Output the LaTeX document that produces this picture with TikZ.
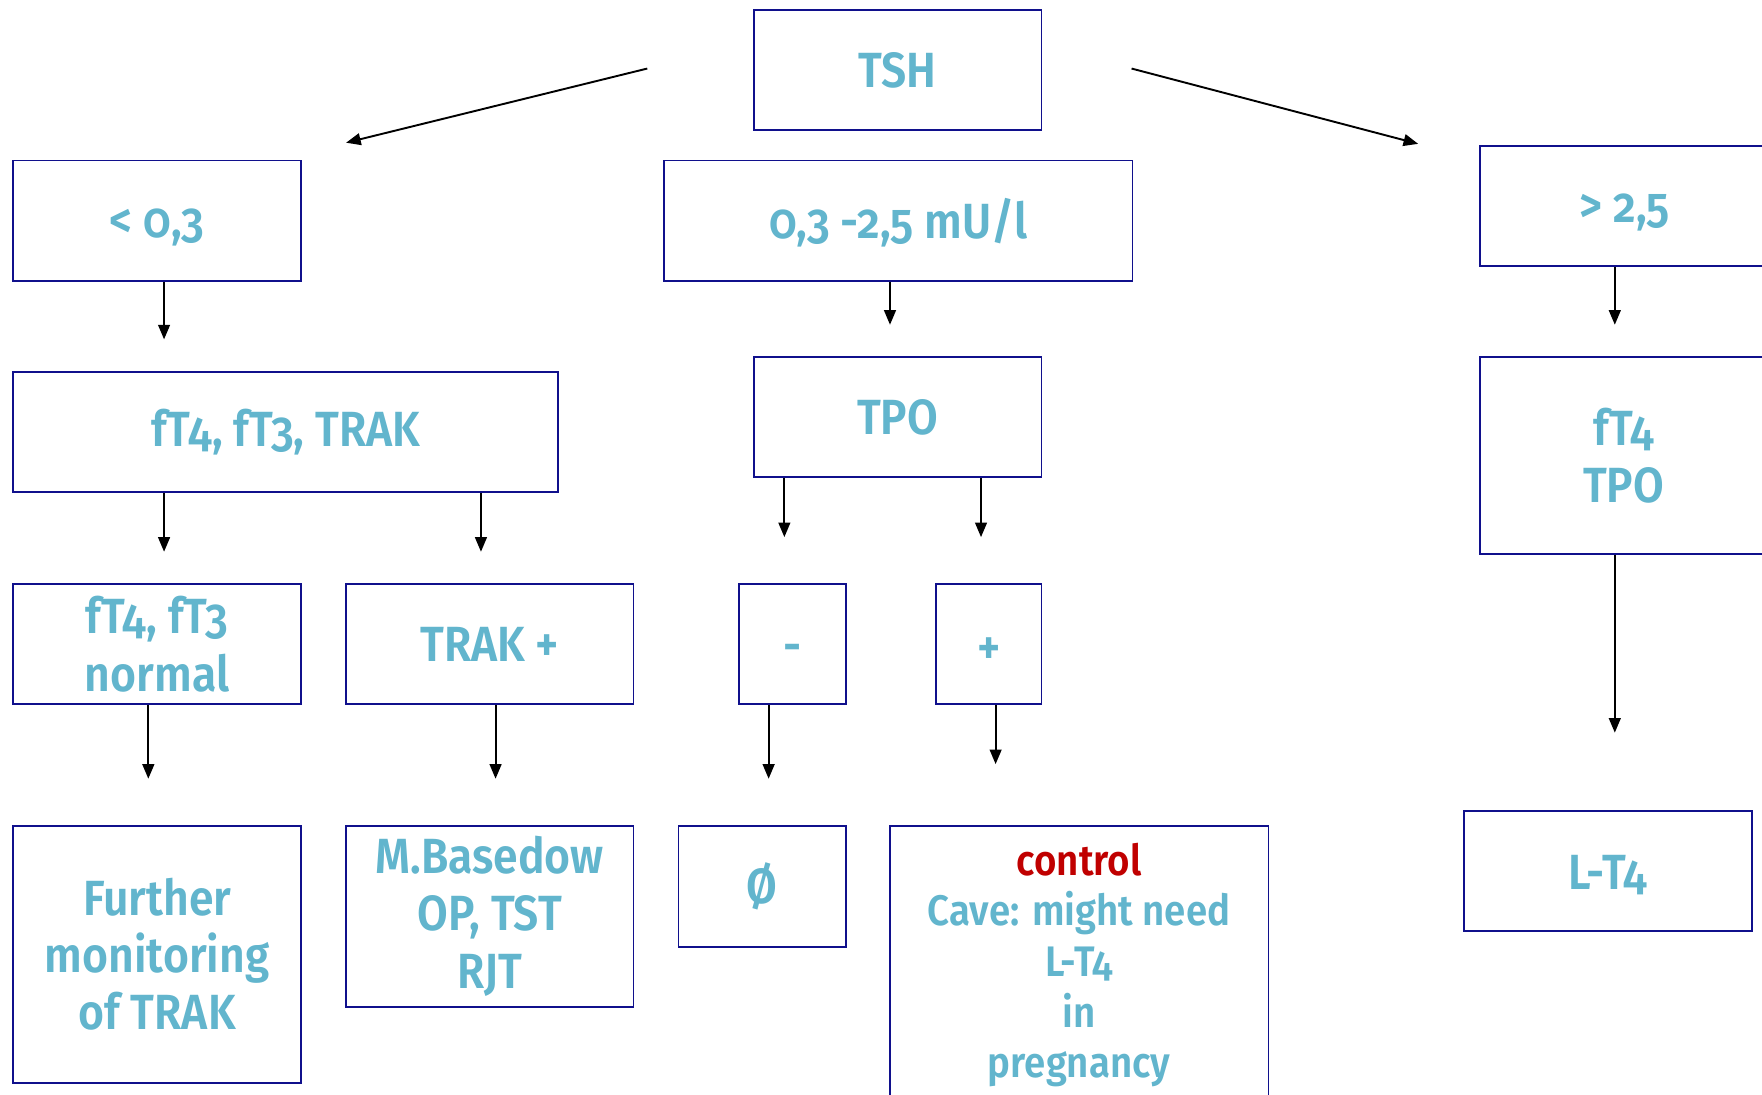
\documentclass[tikz,border=0pt]{standalone}
\usepackage{fontspec}
\setmainfont{Fira Sans}[Numbers=OldStyle, FakeStretch=0.9,
  BoldFont={Fira Sans SemiBold}, BoldFeatures={Numbers=OldStyle, FakeStretch=0.9}]
\usetikzlibrary{arrows.meta}
\definecolor{boxline}{RGB}{16,16,140}
\definecolor{labelblue}{RGB}{98,181,205}
\definecolor{alertred}{RGB}{192,0,0}
% shift a label down without changing the size it reports
\newcommand{\lowered}[2]{\raisebox{-#1pt}[\height][\depth]{#2}}
\tikzset{
  box/.style={draw=boxline, line width=1.6pt, anchor=north west, inner sep=0pt,
    align=center, text=labelblue, font=\fontsize{44}{51}\selectfont\bfseries},
  arr/.style={draw=black, line width=1.7pt, -{Triangle[length=13pt,width=10.5pt]}},
}
\begin{document}
\begin{tikzpicture}[x=1pt,y=-1pt]
\useasboundingbox (0,0) rectangle (1568,974);

% first level
\node[box, minimum width=256pt, minimum height=107pt] (tsh) at (670,8) {TSH};
\node[box, minimum width=256pt, minimum height=107pt] (lt) at (11,142) {\lowered{6}{< 0,3}};
\node[box, minimum width=417pt, minimum height=107pt] (mid) at (590,142) {\lowered{2}{0,3 -2,5 mU/l}};
\node[box, minimum width=258pt, minimum height=107pt] (gt) at (1316,129) {\lowered{6}{> 2,5}};

% second level
\node[box, minimum width=485pt, minimum height=107pt] (ft) at (11,330) {fT4, fT3, TRAK};
\node[box, minimum width=256pt, minimum height=107pt] (tpo) at (670,317) {TPO};
\node[box, minimum width=256pt, minimum height=175pt] (ftp) at (1316,317) {fT4\\TPO};

% third level
\node[box, minimum width=256pt, minimum height=107pt] (norm) at (11,519) {fT4, fT3\\normal};
\node[box, minimum width=256pt, minimum height=107pt] (trak) at (307,519) {TRAK +};
\node[box, minimum width=95pt, minimum height=107pt] (neg) at (657,519) {\lowered{8}{-}};
\node[box, minimum width=94pt, minimum height=107pt] (pos) at (832,519) {\lowered{6}{+}};

% outcomes
\node[box, minimum width=256pt, minimum height=229pt] (furt) at (11,734) {Further\\monitoring\\of TRAK};
\node[box, minimum width=256pt, minimum height=161pt] (base) at (307,734) {M.Basedow\\OP, TST\\RJT};
\node[box, minimum width=149pt, minimum height=108pt] (none) at (603,734) {Ø};
\node[box, minimum width=337pt, minimum height=248pt, font=\fontsize{38}{45}\selectfont\bfseries] (ctrl) at (791,734)
  {\textcolor{alertred}{control}\\Cave: might need\\L-T4\\in\\pregnancy};
\node[box, minimum width=256pt, minimum height=107pt] (lt4) at (1302,721) {\lowered{3}{L-T4}};

% arrow end points
\coordinate (tL0) at (576,61);  \coordinate (tL1) at (308,127);
\coordinate (tR0) at (1007,61); \coordinate (tR1) at (1262,128);
\coordinate (e1) at (146,302);
\coordinate (e2) at (792,289);
\coordinate (e3) at (1437,289);
\coordinate (e4) at (146,491);
\coordinate (e5) at (428,491);
\coordinate (e6) at (698,478);
\coordinate (e7) at (873,478);
\coordinate (e8) at (1437,652);
\coordinate (e9) at (132,693);
\coordinate (e10) at (441,693);
\coordinate (e11) at (684,693);
\coordinate (e12) at (886,680);

% connectors
\draw[arr] (tL0) -- (tL1);
\draw[arr] (tR0) -- (tR1);
\draw[arr] (lt.south -| e1) -- (e1);
\draw[arr] (mid.south -| e2) -- (e2);
\draw[arr] (gt.south -| e3) -- (e3);
\draw[arr] (ft.south -| e4) -- (e4);
\draw[arr] (ft.south -| e5) -- (e5);
\draw[arr] (tpo.south -| e6) -- (e6);
\draw[arr] (tpo.south -| e7) -- (e7);
\draw[arr] (ftp.south -| e8) -- (e8);
\draw[arr] (norm.south -| e9) -- (e9);
\draw[arr] (trak.south -| e10) -- (e10);
\draw[arr] (neg.south -| e11) -- (e11);
\draw[arr] (pos.south -| e12) -- (e12);
\end{tikzpicture}
\end{document}
